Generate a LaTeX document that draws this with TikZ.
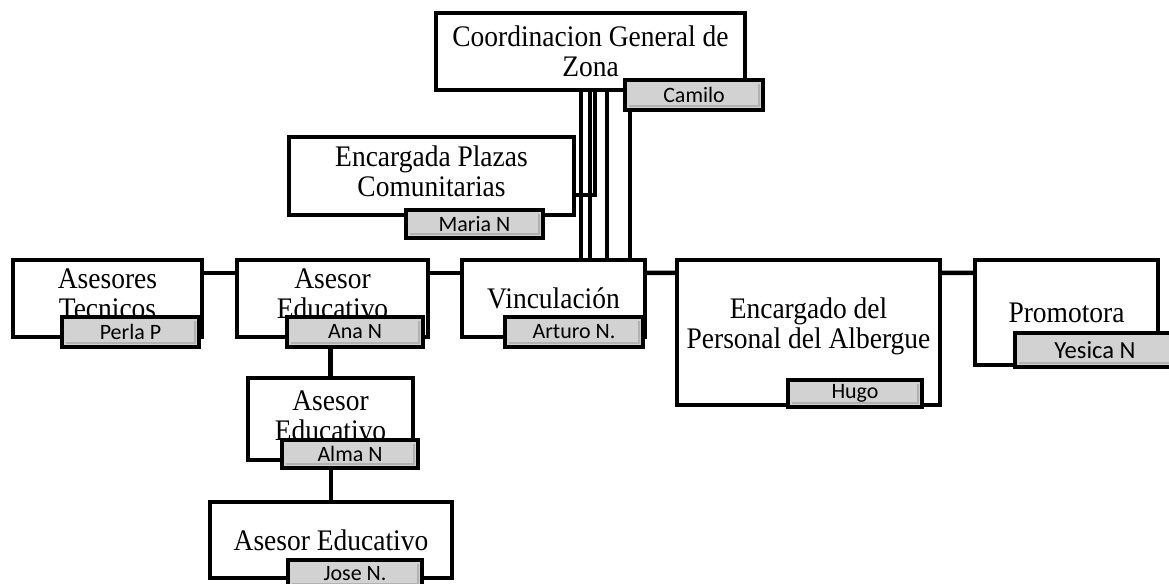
\documentclass[tikz,border=0pt]{standalone}
\usepackage{fontspec}
\setmainfont[FakeStretch = 0.92]{Liberation Serif}
\newfontfamily\namefont{Carlito}
\usetikzlibrary{calc}
\tikzset{puesto/.style = {draw, line width = 2.5pt, fill = white, inner sep = 0, align = center,
    font = \fontsize{17}{17}\selectfont}}
\tikzset{nombre/.style = {draw, line width = 2.5pt, fill = gray!35, inner sep = 0,
    font = \namefont\fontsize{12.5}{14}\selectfont,
    path picture = {\draw [gray!60, line width = 1.2pt]
      ([shift = {(2pt, 2.5pt)}]path picture bounding box.south west) --
      ([shift = {(-2.5pt, 2.5pt)}]path picture bounding box.south east) --
      ([shift = {(-2.5pt, -2pt)}]path picture bounding box.north east);}}}
\tikzset{linea/.style = {line width = 2.5pt}}

\begin{document}
\begin{tikzpicture}[x = 0.02cm, y = -0.02cm]
      \useasboundingbox (0, 0) rectangle (1169, 584);

      \node [puesto, minimum width = 6.18cm, minimum height = 1.54cm] (coord) at (590.5, 51.5) {Coordinacion General de\\Zona};
      \node [puesto, minimum width = 5.7cm, minimum height = 1.56cm, text depth = 0.2cm] (encg) at (431.5, 176) {Encargada Plazas\\Comunitarias};
      \node [puesto, minimum width = 3.78cm, minimum height = 1.54cm, text depth = 0.2cm] (tec) at (107.5, 298.5) {Asesores\\Tecnicos};
      \node [puesto, minimum width = 3.82cm, minimum height = 1.54cm, text depth = 0.2cm] (ae1) at (332.5, 298.5) {Asesor\\Educativo};
      \node [puesto, minimum width = 3.66cm, minimum height = 1.54cm] (vinc) at (553.5, 298.5) {Vinculación};
      \node [puesto, minimum width = 5.26cm, minimum height = 2.9cm, text depth = 0.37cm] (encp) at (808.5, 332.5) {Encargado del\\Personal del Albergue};
      \node [puesto, minimum width = 3.66cm, minimum height = 2.1cm] (prom) at (1066.5, 312.5) {Promotora};
      \node [puesto, minimum width = 3.3cm, minimum height = 1.64cm, text depth = 0.15cm] (ae2) at (330.5, 419) {Asesor\\Educativo};
      \node [puesto, minimum width = 4.84cm, minimum height = 1.52cm] (ae3) at (331, 540) {Asesor Educativo};

      \foreach \dx in {-9.5, -0.5, 16.5, 39.5} {
        \draw [linea] (coord.south) ++(\dx, 0) coordinate (t) -- (t |- vinc.north);
      }
      \draw [linea] (coord.south) ++(4.5, 0) |- ([yshift = -0.38cm]encg.east);

      \foreach \a/\b in {tec/ae1, ae1/vinc, vinc/encp, encp/prom} {
        \draw [linea] ([yshift = -0.3cm]\a.north east) -- ([yshift = -0.3cm]\b.north west);
      }

      \node [nombre, minimum width = 2.76cm, minimum height = 0.6cm] (camilo) at (694, 95) {Camilo};
      \node [nombre, minimum width = 2.74cm, minimum height = 0.56cm] (maria) at (474.5, 224) {Maria N};
      \node [nombre, minimum width = 2.74cm, minimum height = 0.6cm] (perla) at (130.5, 332) {Perla P};
      \node [nombre, minimum width = 2.72cm, minimum height = 0.6cm] (ana) at (355, 332) {Ana N};
      \node [nombre, minimum width = 2.76cm, minimum height = 0.6cm] (arturo) at (574, 332) {Arturo N.};
      \node [nombre, minimum width = 2.68cm, minimum height = 0.54cm] (hugo) at (855, 393.5) {Hugo};
      \node [nombre, minimum width = 3.2cm, minimum height = 0.68cm, font = \namefont\fontsize{14}{16}\selectfont] (yesica) at (1095, 350) {Yesica N};
      \node [nombre, minimum width = 2.72cm, minimum height = 0.56cm] (alma) at (350, 454) {Alma N};
      \node [nombre, minimum width = 2.68cm, minimum height = 0.56cm] (jose) at (355, 574) {Jose N.};

      \draw [linea] (ana.south -| ae2.north) -- (ae2.north);
      \draw [linea] (alma.south -| ae3.north) -- (ae3.north);
    \end{tikzpicture}
\end{document}
